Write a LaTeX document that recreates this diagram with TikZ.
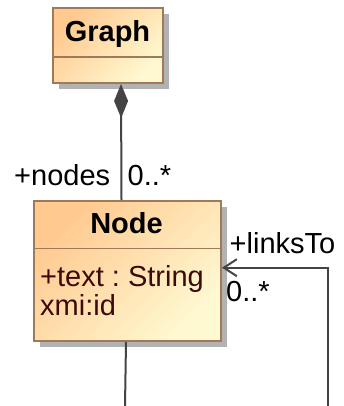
\documentclass[tikz,border=0pt]{standalone}
\usepackage{xcolor}
\usepackage{fontspec}
\setmainfont{Liberation Sans}
\frenchspacing
\usepackage{tikz}
\usetikzlibrary{arrows.meta,shadows}

\definecolor{classtop}{HTML}{FFC98F}
\definecolor{classbot}{HTML}{FFF9D2}
\definecolor{classedge}{HTML}{A07A58}
\definecolor{attrtext}{HTML}{3C0A0A}
\definecolor{wire}{HTML}{444444}

\begin{document}
\begin{tikzpicture}[x=1pt,y=-1pt,
		classbox/.style={draw=classedge, line width=2pt, top color=classtop, bottom color=classbot, shading angle=45, drop shadow={shadow xshift=6pt, shadow yshift=-6pt, opacity=1, fill=black!30}, inner sep=0pt, anchor=north west},
		umltext/.style={font=\fontsize{29}{30}\selectfont, inner sep=0pt},
		wire/.style={draw=wire, line width=2pt}]

			\useasboundingbox (0,0) rectangle (344,406);

			\node [classbox, minimum width=110pt, minimum height=75pt] (graph) at (52,7) {};
			\node [classbox, minimum width=187pt, minimum height=140pt] (node) at (33,200) {};
			\draw [classedge, line width=1.6pt] (52,57.3) -- (162,57.3);
			\draw [classedge, line width=1.6pt] (33,248.3) -- (220,248.3);

			\node [umltext, anchor=base] (graphname) at (107.5,41.7) {\textbf{Graph}};
			\node [umltext, anchor=base] (nodename) at (126.5,233.3) {\textbf{Node}};
			\node [umltext, anchor=base west, text=attrtext] (attrtext) at (40,286.7) {+text : String};
			\node [umltext, anchor=base west, text=attrtext] (attrid) at (40,315.5) {xmi:id};

			\draw [wire, {Diamond[length=34pt, width=14pt]}-] ([xshift=13pt]graph.south) -- ([xshift=-6pt]node.north);

			\coordinate (loopleft) at (125,406);
			\coordinate (loopright) at (327.7,406);
			\draw [wire] ([xshift=-1.5pt]node.south) -- (loopleft);
			\draw [wire, -{Straight Barb[length=13pt, width=17pt]}] (loopright) |- ([yshift=3.3pt]node.east);

			\node [umltext, anchor=base west] (nodesrole) at (14,185.5) {+nodes};
			\node [umltext, anchor=base west] (nodesmult) at (127.5,185.5) {0..*};
			\node [umltext, anchor=base west] (linksrole) at (229.5,253) {+linksTo};
			\node [umltext, anchor=base west] (linksmult) at (226,301.7) {0..*};
		\end{tikzpicture}
\end{document}
